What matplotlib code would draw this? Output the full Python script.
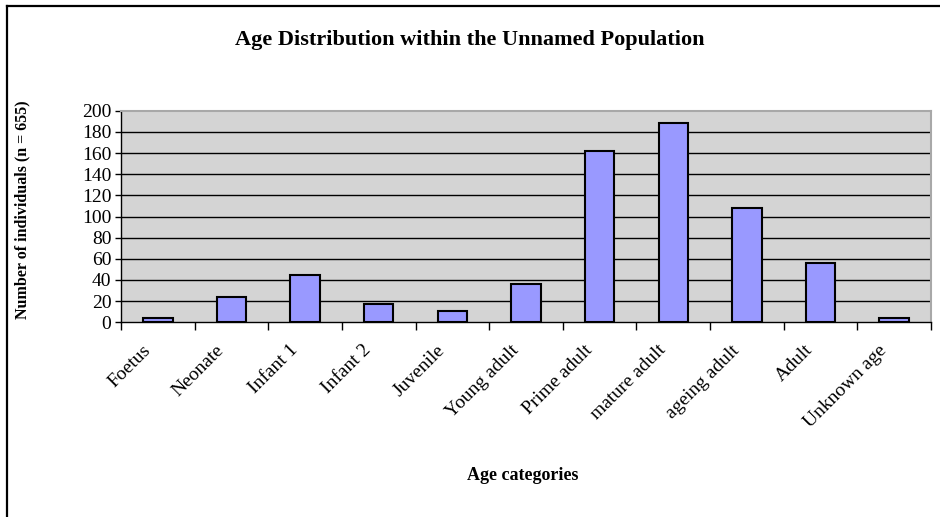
import matplotlib
matplotlib.use("Agg")
import matplotlib.pyplot as plt
from matplotlib.lines import Line2D
from matplotlib.transforms import ScaledTranslation

categories = ["Foetus", "Neonate", "Infant 1", "Infant 2", "Juvenile", "Young adult",
              "Prime adult", "mature adult", "ageing adult", "Adult", "Unknown age"]
counts = [4, 24, 45, 17, 11, 36, 162, 188, 108, 56, 4]
y_ticks = [0, 20, 40, 60, 80, 100, 120, 140, 160, 180, 200]

plt.rcParams["font.family"] = ["Liberation Serif", "DejaVu Serif"]

fig = plt.figure(figsize=(9.4, 5.17), dpi=100)
W, H = 940, 517
ax = fig.add_axes([121 / W, 1 - 322.3 / H, 810 / W, 211.6 / H])
ax.set_facecolor("#d4d4d4")

x = list(range(len(categories)))
ax.bar(x, counts, width=0.4, color="#9999ff", edgecolor="black", linewidth=1.5, zorder=3)

ax.set_xlim(-0.5, len(categories) - 0.5)
ax.set_ylim(0, 200)
ax.set_yticks(y_ticks)
ax.set_yticklabels([str(v) for v in y_ticks], fontsize=14)
for v in y_ticks[1:-1]:
    ax.axhline(v, color="black", linewidth=1, zorder=1)

# category boundaries carry the tick marks, labels sit at the centres
ax.set_xticks([i - 0.5 for i in range(len(categories) + 1)], minor=True)
ax.set_xticks(x)
ax.set_xticklabels(categories, rotation=45, ha="right", rotation_mode="anchor", fontsize=14)
ax.tick_params(axis="x", which="major", length=0, pad=14)
ax.tick_params(axis="x", which="minor", length=6, width=1, direction="out", color="black")
ax.tick_params(axis="y", length=4, width=1, direction="out", pad=3)
shift = ScaledTranslation(-16 / 100, 0, fig.dpi_scale_trans)
for lab in ax.get_xticklabels():
    lab.set_transform(lab.get_transform() + shift)

for s in ["top", "right"]:
    ax.spines[s].set_color("#a8a8a8")
    ax.spines[s].set_linewidth(1.5)
for s in ["left", "bottom"]:
    ax.spines[s].set_color("black")
    ax.spines[s].set_linewidth(1)

fig.text(0.5, 1 - 40 / H, "Age Distribution within the Unnamed Population",
         ha="center", va="center", fontsize=16, fontweight="bold")
fig.text(22 / W, 1 - 210 / H, "Number of individuals (n = 655)", rotation=90,
         ha="center", va="center", fontsize=11.5, fontweight="bold")
fig.text(523 / W, 1 - 475 / H, "Age categories", ha="center", va="center",
         fontsize=13, fontweight="bold")

# outer frame (left and top edges only are visible)
fig.add_artist(Line2D([7 / W, 7 / W], [-0.01, 1 - 6 / H], transform=fig.transFigure,
                      color="black", linewidth=1.6))
fig.add_artist(Line2D([7 / W, 1.01], [1 - 6 / H, 1 - 6 / H], transform=fig.transFigure,
                      color="black", linewidth=1.6))

fig.savefig("out.png", dpi=100)
